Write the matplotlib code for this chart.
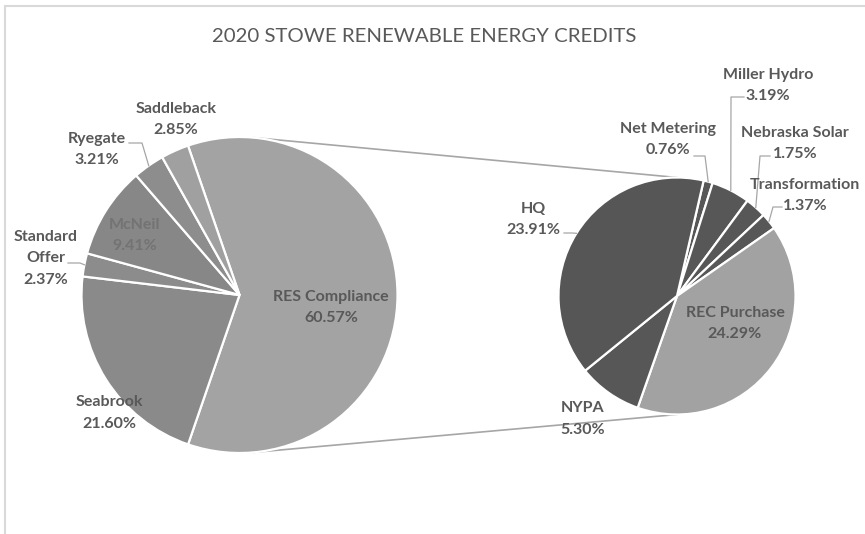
import matplotlib.pyplot as plt
import numpy as np

# primary pie, in clockwise order starting with the split-off slice
main_labels = ["RES Compliance", "Seabrook", "Standard\nOffer", "McNeil", "Ryegate", "Saddleback"]
main_values = [60.57, 21.60, 2.37, 9.41, 3.21, 2.85]
main_colors = ["#a3a3a3", "#8a8a8a", "#8c8c8c", "#878787", "#8d8d8d", "#a0a0a0"]

# secondary pie (breakdown of RES Compliance), clockwise from the top
sub_labels = ["Net Metering", "Miller Hydro", "Nebraska Solar", "Transformation",
              "REC Purchase", "NYPA", "HQ"]
sub_values = [0.76, 3.19, 1.75, 1.37, 24.29, 5.30, 23.91]
sub_colors = ["#575757", "#575757", "#575757", "#575757", "#a2a2a2", "#575757", "#565656"]

W, H = 865, 534
plt.rcParams['font.family'] = ['Lato', 'DejaVu Sans']

fig = plt.figure(figsize=(W / 100, H / 100), dpi=100)
ax = fig.add_axes([0, 0, 1, 1])


def py(y):
    # pixel-from-top to axes y
    return H - y


c1, r1 = (239.5, py(295)), 158
c2, r2 = (677, py(296)), 118.5

start1 = main_values[0] / 100 * 360 / 2
w1, _ = ax.pie(main_values, colors=main_colors, startangle=start1, counterclock=False,
               center=c1, radius=r1, frame=True,
               wedgeprops=dict(edgecolor="white", linewidth=1.6))
w2, _ = ax.pie(sub_values, colors=sub_colors, startangle=77, counterclock=False,
               center=c2, radius=r2, frame=True,
               wedgeprops=dict(edgecolor="white", linewidth=1.6))

ax.set_xlim(0, W)
ax.set_ylim(0, H)
ax.set_aspect("equal")
ax.axis("off")

# connector lines: from top/bottom of secondary pie, tangent to primary pie
for sgn in (1, -1):
    P = np.array([c2[0], c2[1] + sgn * r2])
    C = np.array(c1)
    d = P - C
    dist = np.hypot(*d)
    base = np.arctan2(d[1], d[0])
    a = base + sgn * np.arccos(r1 / dist)
    T = C + r1 * np.array([np.cos(a), np.sin(a)])
    ax.plot([T[0], P[0]], [T[1], P[1]], color="#a6a6a6", lw=1.2, zorder=0)

lbl_color = "#595959"
lead_color = "#a6a6a6"
line_gap = 21.5


def edge_point(w):
    ang = np.deg2rad((w.theta1 + w.theta2) / 2)
    cx, cy = w.center
    return cx + w.r * np.cos(ang), cy + w.r * np.sin(ang)


# label layout in pixels: (x, y of first line, colour, leader tick (x0, x1, y) or None)
main_pos = {
    "RES Compliance": (331, 297, lbl_color, None),
    "Seabrook": (109, 402, lbl_color, None),
    "Standard\nOffer": (46, 237, "#595959", (68, 80, 263)),
    "McNeil": (135, 225, "#737373", None),
    "Ryegate": (97, 139, lbl_color, (129, 142, 143)),
    "Saddleback": (176, 109, lbl_color, None),
}
sub_pos = {
    "Net Metering": (668, 129, lbl_color, (694, 705, 156)),
    "Miller Hydro": (768, 75, lbl_color, (744, 731, 97)),
    "Nebraska Solar": (795, 133, lbl_color, (770, 760, 156)),
    "Transformation": (805, 185, lbl_color, (782, 773, 207)),
    "REC Purchase": (735, 313, lbl_color, None),
    "NYPA": (583, 408, lbl_color, None),
    "HQ": (533, 209, lbl_color, (564, 572, 233)),
}


def draw_labels(wedges, labels, values, pos):
    for w, lab, val in zip(wedges, labels, values):
        x, y, col, tick = pos[lab]
        lines = lab.split("\n") + [f"{val:.2f}%"]
        for i, s in enumerate(lines):
            ax.text(x, py(y + i * line_gap), s, ha="center", va="center", fontsize=11.5,
                    fontweight="bold", color=col)
        if tick is not None:
            x0, x1, ty = tick
            ex, ey = edge_point(w)
            ax.plot([x0, x1, ex], [py(ty), py(ty), ey], color=lead_color, lw=0.9, zorder=3)


draw_labels(w1, main_labels, main_values, main_pos)
draw_labels(w2, sub_labels, sub_values, sub_pos)

ax.text(424, py(37), "2020 STOWE RENEWABLE ENERGY CREDITS", ha="center", va="center",
        fontsize=14.7, color="#595959")

# chart border
ax.add_patch(plt.Rectangle((5, -10), W, py(6) + 10, fill=False, edgecolor="#d9d9d9", lw=1.5))

fig.savefig("out.png", dpi=100)
